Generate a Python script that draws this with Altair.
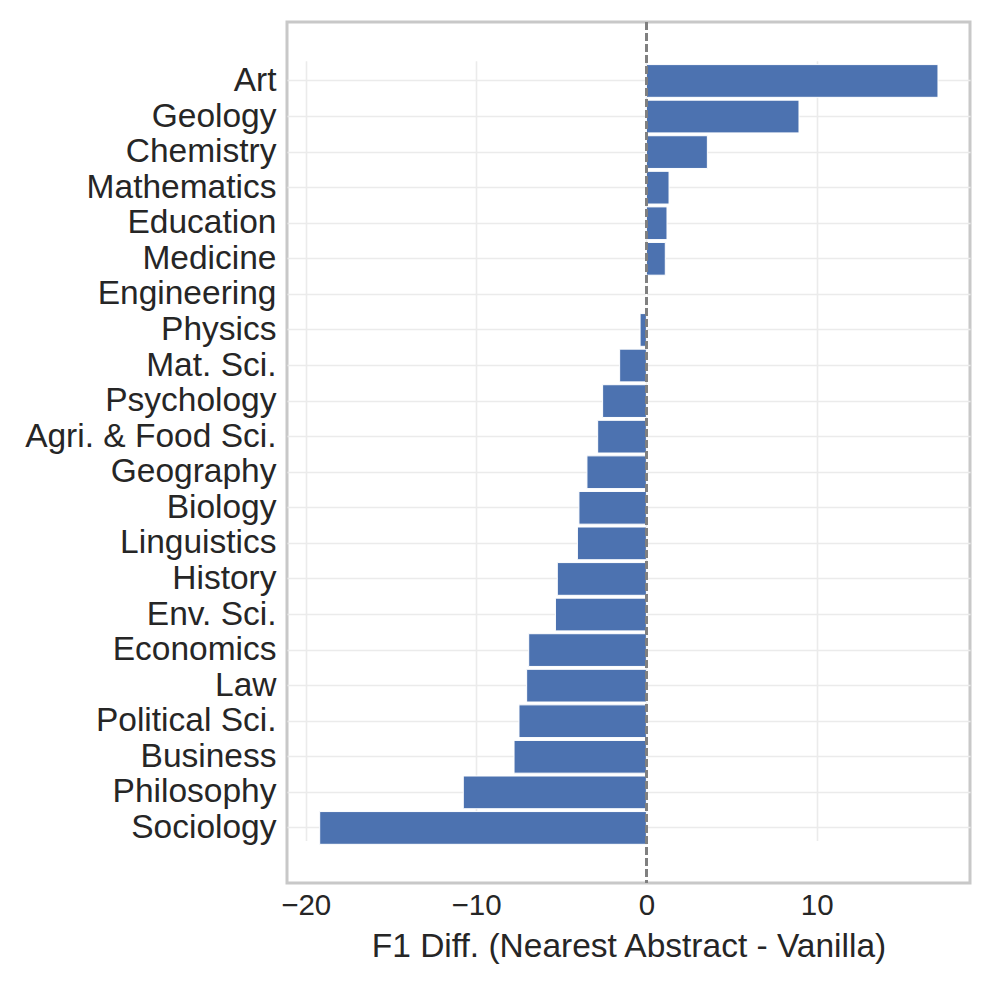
import altair as alt
import pandas as pd

categories = ["Art", "Geology", "Chemistry", "Mathematics", "Education", "Medicine",
              "Engineering", "Physics", "Mat. Sci.", "Psychology", "Agri. & Food Sci.",
              "Geography", "Biology", "Linguistics", "History", "Env. Sci.", "Economics",
              "Law", "Political Sci.", "Business", "Philosophy", "Sociology"]
values = [17.12, 8.96, 3.58, 1.33, 1.21, 1.11,
          0.0, -0.37, -1.57, -2.57, -2.86,
          -3.49, -3.96, -4.05, -5.23, -5.34, -6.91,
          -7.03, -7.48, -7.77, -10.75, -19.18]
x_ticks = [-20, -10, 0, 10]

df = pd.DataFrame({"field": categories, "diff": values})

FONT = "Liberation Sans"
TXT = "#262626"

bars = alt.Chart(df).mark_bar(color="#4c72b0", stroke="white", strokeWidth=1).encode(
    x=alt.X("diff:Q",
            scale=alt.Scale(domain=[-21.1, 19.0], nice=False, zero=False),
            axis=alt.Axis(values=x_ticks, title="F1 Diff. (Nearest Abstract - Vanilla)",
                          labelFontSize=29.5, titleFontSize=33.5, labelPadding=8,
                          titlePadding=11, ticks=False, domain=False,
                          gridColor="#ebebeb", gridWidth=1.6,
                          labelColor=TXT, titleColor=TXT,
                          labelFont=FONT, titleFont=FONT, titleFontWeight="normal",
                          labelExpr="replace(format(datum.value, 'd'), '-', '\u2212')")),
    y=alt.Y("field:N", sort=categories,
            scale=alt.Scale(paddingInner=0.08, paddingOuter=0, range=[42.6, 822.3]),
            axis=alt.Axis(title=None, labelFontSize=33.5, labelPadding=11,
                          ticks=False, domain=False, bandPosition=0.5,
                          gridColor="#ebebeb", gridWidth=1.6, grid=True,
                          labelColor=TXT, labelFont=FONT, labelLimit=400)),
)

zero_line = alt.Chart(df).mark_rule(color="#808080", strokeWidth=2, strokeDash=[8, 3]).encode(
    x=alt.datum(0)
)

chart = alt.layer(bars, zero_line).properties(
    width=683, height=861,
    autosize=alt.AutoSizeParams(type="none"),
    padding={"left": 279, "top": 14, "right": 10, "bottom": 90},
    view=alt.ViewBackground(stroke="#c8c8c8", strokeWidth=3, fill="white"),
).configure(background="white")

chart.save("out.html", embed_options={"renderer": "svg", "actions": False})
